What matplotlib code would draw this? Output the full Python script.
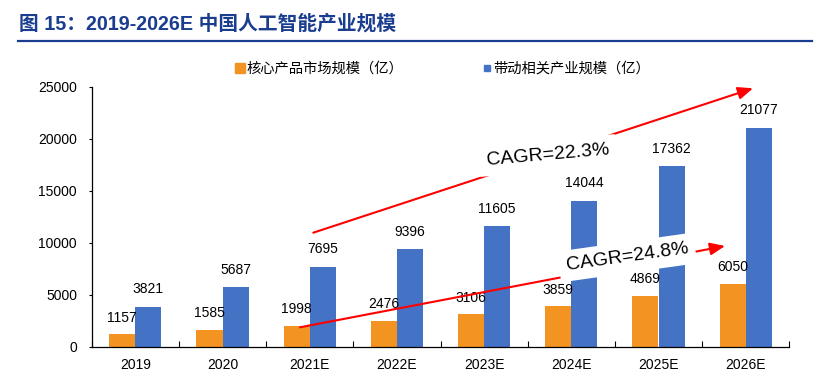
import matplotlib
matplotlib.use("Agg")
import matplotlib.pyplot as plt
from matplotlib.lines import Line2D
import numpy as np

plt.rcParams['font.family'] = ['Liberation Sans', 'Noto Sans CJK SC', 'DejaVu Sans']

categories = ['2019', '2020', '2021E', '2022E', '2023E', '2024E', '2025E', '2026E']
core_market = [1157, 1585, 1998, 2476, 3106, 3859, 4869, 6050]
related_industry = [3821, 5687, 7695, 9396, 11605, 14044, 17362, 21077]
series_names = ['核心产品市场规模（亿）', '带动相关产业规模（亿）']
title_text = '图 15：2019-2026E 中国人工智能产业规模'
cagr_upper = 'CAGR=22.3%'
cagr_lower = 'CAGR=24.8%'

orange = '#F39321'
blue = '#4472C4'
title_blue = '#1A3D8F'

W, H = 831, 384
fig = plt.figure(figsize=(W / 100, H / 100), dpi=100)
ax = fig.add_axes([91.7 / W, 1 - 346.5 / H, 697.6 / W, 259.5 / H])

x = np.arange(len(categories))
bw = 0.3
ax.bar(x - bw / 2, core_market, width=bw, color=orange, zorder=2)
ax.bar(x + bw / 2, related_industry, width=bw, color=blue, zorder=2)

for xi, v in zip(x, core_market):
    ax.annotate(str(v), (xi - bw / 2, v), xytext=(0, 12), textcoords='offset points',
                ha='center', va='center', fontsize=10, zorder=3)
for xi, v in zip(x, related_industry):
    ax.annotate(str(v), (xi + bw / 2, v), xytext=(0, 12.5), textcoords='offset points',
                ha='center', va='center', fontsize=10, zorder=3)

ax.set_xlim(-0.5, len(categories) - 0.5)
ax.set_ylim(0, 25000)
ax.set_yticks(np.arange(0, 25001, 5000))
ax.tick_params(axis='y', direction='out', length=2.5, width=0.8, labelsize=10, pad=8)
ax.set_xticks(x)
ax.set_xticklabels(categories)
ax.tick_params(axis='x', which='major', length=0, labelsize=10, pad=8)
ax.set_xticks(np.arange(-0.5, len(categories)), minor=True)
ax.tick_params(axis='x', which='minor', direction='in', length=4, width=0.8)
for s in ['top', 'right']:
    ax.spines[s].set_visible(False)
for s in ['left', 'bottom']:
    ax.spines[s].set_linewidth(0.9)

# CAGR arrows
ap = dict(arrowstyle='-|>,head_length=0.6,head_width=0.25', color='red', lw=1.5,
          mutation_scale=15, shrinkA=0, shrinkB=0)
ax.annotate('', xy=(7.084, 24875), xytext=(2.041, 10963), arrowprops=ap,
            annotation_clip=False, zorder=4)
ax.annotate('', xy=(6.763, 9682), xytext=(1.889, 1850), arrowprops=ap,
            annotation_clip=False, zorder=4)

box = dict(facecolor='white', edgecolor='none', pad=5)
ax.text(4.728, 18400, cagr_upper, fontsize=14, rotation=5, rotation_mode='anchor',
        ha='center', va='center', bbox=box, zorder=5)
ax.text(5.64, 8580, cagr_lower, fontsize=14, rotation=8, rotation_mode='anchor',
        ha='center', va='center', bbox=box, zorder=5)

# Legend
h1 = Line2D([], [], linestyle='none', marker='s', markersize=7, color=orange)
h2 = Line2D([], [], linestyle='none', marker='s', markersize=5, color=blue)
fig.legend([h1], [series_names[0]], loc='center left', bbox_to_anchor=(234 / W, 1 - 69 / H),
           frameon=False, fontsize=10.3, handlelength=0.8, handletextpad=0.05,
           borderpad=0, borderaxespad=0)
fig.legend([h2], [series_names[1]], loc='center left', bbox_to_anchor=(481 / W, 1 - 69 / H),
           frameon=False, fontsize=10.3, handlelength=0.8, handletextpad=0.05,
           borderpad=0, borderaxespad=0)

# Title and underline
fig.text(19 / W, 1 - 24 / H, title_text, fontsize=14.2, fontweight='bold', color=title_blue,
         ha='left', va='center')
fig.add_artist(Line2D([18 / W, 812 / W], [1 - 40.5 / H, 1 - 40.5 / H], color=title_blue, lw=1.6,
                      transform=fig.transFigure))

fig.savefig('out.png', dpi=100)
